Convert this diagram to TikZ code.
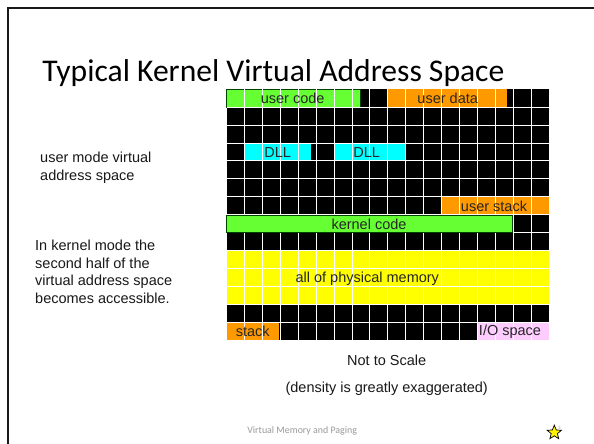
\documentclass[tikz,border=0pt]{standalone}
\usepackage{fontspec}
\setmainfont{Liberation Sans}
\newfontfamily\titlefont{Carlito}
\usetikzlibrary{shapes.geometric}
\definecolor{blockgreen}{HTML}{66FF33}
\definecolor{blockorange}{HTML}{FF9900}
\definecolor{blockcyan}{HTML}{00FFFF}
\definecolor{blockyellow}{HTML}{FFFF00}
\definecolor{blockpink}{HTML}{FFCCFF}
\definecolor{footgrey}{HTML}{999999}
\tikzset{
  outlined/.style={fill=#1, draw=black!75!green, line width=0.8pt},
  blocklabel/.style={font=\fontsize{14.5}{16}\selectfont, text=black!85, inner sep=0pt},
  sidetext/.style={font=\fontsize{14.5}{17.5}\selectfont, align=left, anchor=north west, inner sep=0pt, text=black!90},
  notetext/.style={font=\fontsize{14.5}{16}\selectfont, inner sep=0pt, text=black!90},
}
\begin{document}
\begin{tikzpicture}[x=1pt, y=-1pt]
\useasboundingbox (0,0) rectangle (594,444);
\fill[white] (0,0) rectangle (594,444);
% slide frame
\draw[line width=2pt, black!90] (7.7,444) -- (7.7,7.7) -- (594,7.7);

% title
\node[font=\titlefont\fontsize{31.6}{36}\selectfont, anchor=base] (title) at (273.4,81.7) {Typical Kernel Virtual Address Space};

% address space: 18 columns x 14 rows
\def\gx{226.7}\def\gy{89.3}\def\cw{17.906}\def\ch{17.907}
\fill[black] (\gx,\gy) rectangle (549,340);

% user regions
\filldraw[outlined=blockgreen] (226.7,89.3) rectangle (360.7,107.3);
\fill[blockorange] (387.7,89.3) rectangle (507.3,107.3);
\fill[blockcyan] (245,143.3) rectangle (311,161.3);
\fill[blockcyan] (334.3,143.3) rectangle (405,161.3);
\fill[blockorange] (441.7,197.3) rectangle (549,215.3);
% kernel regions
\fill[blockyellow] (226.7,250.7) rectangle (549,304.7);
\fill[blockorange] (226.7,322.7) rectangle (279.3,340);
\fill[blockpink] (477.7,322.7) rectangle (549,340);

% white grid
\foreach \i in {1,...,17} {
  \draw[white, line width=1pt] (\gx+\i*\cw,\gy) -- (\gx+\i*\cw,340);
}
\foreach \j in {1,...,13} {
  \draw[white, line width=1pt] (\gx,\gy+\j*\ch) -- (549,\gy+\j*\ch);
}

% kernel code sits above the grid
\filldraw[outlined=blockgreen] (226.7,215.6) rectangle (512.7,232.6);

% block labels
\node[blocklabel] (ucode) at (292.7,98.5) {user code};
\node[blocklabel] (udata) at (447.7,98.5) {user data};
\node[blocklabel] (dll1) at (277.7,152.5) {DLL};
\node[blocklabel] (dll2) at (366.7,152.5) {DLL};
\node[blocklabel] (ustack) at (494,206.5) {user stack};
\node[blocklabel] (kcode) at (369,224.3) {kernel code};
\node[blocklabel] (phys) at (367.3,279) {all of physical memory};
\node[blocklabel] (kstack) at (252.7,331.5) {stack};
\node[blocklabel] (io) at (510,331.5) {I/O space};

% side notes
\node[sidetext] (umode) at (40,152) {user mode virtual\\address space};
\node[sidetext] (kmode) at (35,240) {In kernel mode the\\second half of the\\virtual address space\\becomes accessible.};

% notes below the grid
\node[notetext] (scale) at (386.7,360.7) {Not to Scale};
\node[notetext] (density) at (386.7,388.3) {(density is greatly exaggerated)};

% footer
\node[font=\titlefont\fontsize{9.9}{12}\selectfont, text=footgrey] (footer) at (302.2,430.7) {Virtual Memory and Paging};
\node[star, star points=5, star point ratio=2.3, minimum size=15pt, inner sep=0pt, fill=yellow, draw=black, line width=0.7pt] (mark) at (554.3,432.6) {};
\node[font=\titlefont\fontsize{5}{6}\selectfont, text=black!35, inner sep=0pt] (pagenum) at (559.5,427.5) {3};
\end{tikzpicture}
\end{document}
